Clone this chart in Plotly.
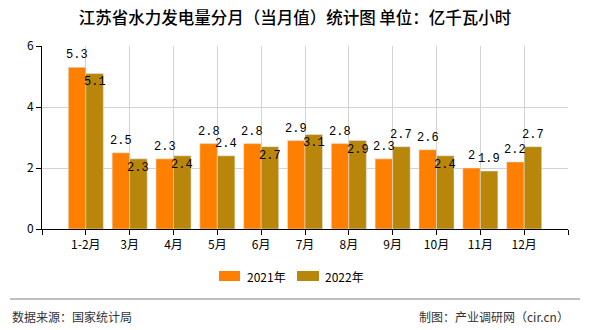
import plotly.graph_objects as go

categories = ["1-2月", "3月", "4月", "5月", "6月", "7月", "8月", "9月", "10月", "11月", "12月"]
values_2021 = [5.3, 2.5, 2.3, 2.8, 2.8, 2.9, 2.8, 2.3, 2.6, 2.0, 2.2]
values_2022 = [5.1, 2.3, 2.4, 2.4, 2.7, 3.1, 2.9, 2.7, 2.4, 1.9, 2.7]
label_inside_2022 = [True, True, True, False, True, True, True, False, True, False, False]
series_names = ["2021年", "2022年"]

C21 = "#FF8000"
C22 = "#B8860B"
idx = list(range(len(categories)))

# pixel -> paper helpers (plot area: x 42..568, y 46..229)
L, R, T, B = 42, 568, 46, 229
def px(x):
    return (x - L) / (R - L)
def py(y):
    return (B - y) / (B - T)

fig = go.Figure()
fig.add_trace(go.Bar(x=idx, y=values_2021, name=series_names[0], marker_color=C21,
                     offset=-0.4, width=0.4, hoverinfo="skip", showlegend=False))
fig.add_trace(go.Bar(x=idx, y=values_2022, name=series_names[1], marker_color=C22,
                     offset=0.0, width=0.4, hoverinfo="skip", showlegend=False))

def fmt(v):
    return ("%g" % v)

ann = []
lab_font = dict(family="Liberation Mono, DejaVu Sans Mono, monospace", size=12, color="#000")
for i, v in enumerate(values_2021):
    ann.append(dict(x=i - 0.2, y=v, text=fmt(v), showarrow=False, yanchor="bottom",
                    yshift=3, font=lab_font, xref="x", yref="y"))
for i, v in enumerate(values_2022):
    if label_inside_2022[i]:
        ann.append(dict(x=i + 0.2, y=v, text=fmt(v), showarrow=False, yanchor="top",
                        yshift=0, font=lab_font, xref="x", yref="y"))
    else:
        ann.append(dict(x=i + 0.2, y=v, text=fmt(v), showarrow=False, yanchor="bottom",
                        yshift=3, font=lab_font, xref="x", yref="y"))

foot_font = dict(family="Noto Sans CJK SC", size=12, color="#333")
ann.append(dict(text="数据来源：国家统计局", xref="paper", yref="paper", x=px(10), y=py(316),
                xanchor="left", yanchor="middle", showarrow=False, font=foot_font))
ann.append(dict(text="制图：产业调研网（cir.cn）", xref="paper", yref="paper", x=px(571), y=py(316),
                xanchor="right", yanchor="middle", showarrow=False, font=foot_font))

# manual legend
leg_font = dict(family="Noto Sans CJK SC", size=12, color="#000")
shapes = [dict(type="line", xref="paper", yref="paper", x0=px(10), x1=px(580),
               y0=py(299), y1=py(299), line=dict(color="#808080", width=1))]
for (bx0, bx1, tx, col, nm) in [(219, 240, 245, C21, series_names[0]),
                                 (297, 319, 323, C22, series_names[1])]:
    shapes.append(dict(type="rect", xref="paper", yref="paper", x0=px(bx0), x1=px(bx1),
                       y0=py(281), y1=py(271), fillcolor=col, line=dict(width=0)))
    ann.append(dict(text=nm, xref="paper", yref="paper", x=px(tx), y=py(276),
                    xanchor="left", yanchor="middle", showarrow=False, font=leg_font))

fig.update_layout(
    width=590, height=330,
    margin=dict(l=L, r=590 - R, t=T, b=330 - B),
    paper_bgcolor="white", plot_bgcolor="white",
    barmode="overlay",
    showlegend=False,
    title=dict(text="江苏省水力发电量分月（当月值）统计图 单位：亿千瓦小时",
               x=0.5, xref="container", xanchor="center",
               y=1 - 18 / 330, yanchor="middle",
               font=dict(family="Noto Sans CJK SC", size=16.5, color="#000", weight=500)),
    font=dict(family="Noto Sans CJK SC", size=12, color="#000"),
    xaxis=dict(range=[-1, 11], tickmode="array",
               tickvals=[-1] + idx + [11], ticktext=[""] + categories + [""],
               showgrid=True, gridcolor="#d3d3d3", gridwidth=1,
               showline=True, linecolor="#000", linewidth=1,
               ticks="outside", ticklen=5, tickcolor="#000",
               tickfont=dict(family="Noto Sans CJK SC", size=12, color="#000"),
               zeroline=False, fixedrange=True),
    yaxis=dict(range=[0, 6], tickvals=[0, 2, 4, 6],
               showgrid=True, gridcolor="#d3d3d3", gridwidth=1,
               showline=True, linecolor="#000", linewidth=1,
               ticks="outside", ticklen=5, tickcolor="#000",
               tickfont=dict(family="Noto Sans CJK SC", size=12, color="#000"),
               zeroline=False, fixedrange=True),
    annotations=ann,
    shapes=shapes,
)

fig.write_html("out.html")
